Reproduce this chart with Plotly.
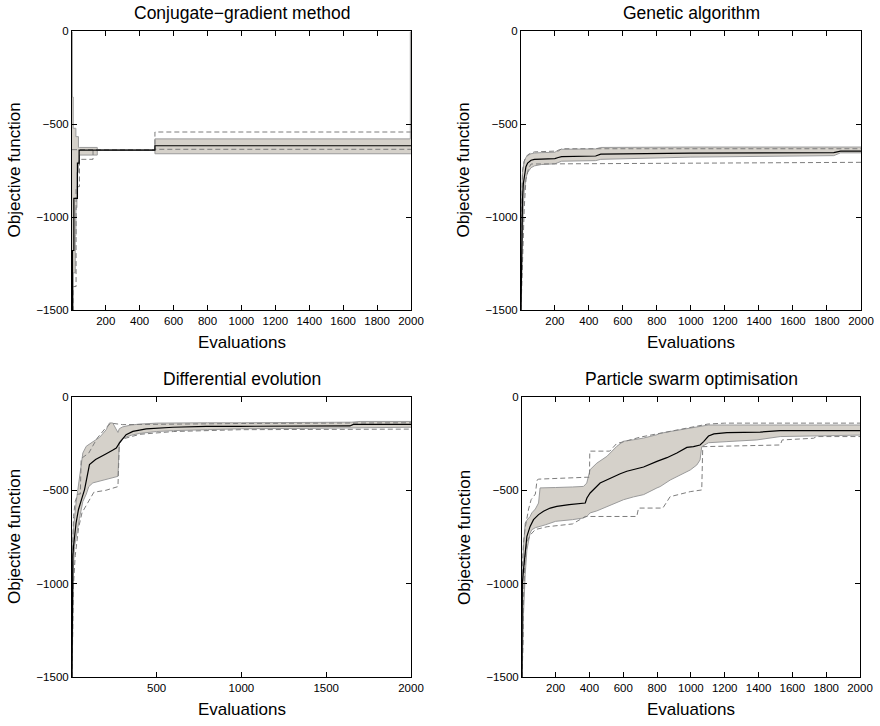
import plotly.graph_objects as go

W, H = 880, 726

# ---------------- Conjugate-gradient method ----------------
cg_band_x = [1, 3, 8, 20, 24, 30, 39, 45, 150, 490, 1996, 2000]
cg_band_hi = [-5, -355, -523, -523, -568, -568, -626, -626, -640, -580, -5, -5]
cg_band_lo = [-1500, -1500, -1300, -1100, -950, -760, -700, -667, -640, -660, -660, -660]
cg_mean_x = [1, 4, 12, 33, 43, 490, 2000]
cg_mean_y = [-1500, -1180, -900, -710, -640, -617, -617]
cg_dhi_x = [1, 490, 2000]
cg_dhi_y = [-638, -543, -543]
cg_dlo_x = [1, 8, 25, 45, 125, 490, 2000]
cg_dlo_y = [-1500, -1374, -837, -690, -640, -636, -636]

# ---------------- Genetic algorithm ----------------
ga_band_x = [1, 3, 6, 10, 15, 20, 30, 40, 60, 80, 120, 200, 220, 240, 440, 470, 1000, 1840, 1880, 2000]
ga_band_hi = [-1300, -1000, -850, -760, -720, -700, -680, -670, -660, -656, -654, -652, -640, -636,
              -634, -626, -624, -624, -624, -624]
ga_band_lo = [-1500, -1450, -1250, -1050, -930, -860, -790, -760, -735, -725, -718, -714, -705, -700,
              -697, -690, -678, -670, -655, -655]
ga_mean_x = ga_band_x
ga_mean_y = [-1500, -1250, -1050, -900, -820, -780, -730, -710, -695, -690, -688, -686, -680, -675,
             -672, -662, -657, -654, -646, -646]
ga_dhi_x = [1, 5, 10, 20, 30, 50, 80, 220, 240, 2000]
ga_dhi_y = [-1100, -850, -750, -700, -675, -660, -650, -645, -633, -633]
ga_dlo_x = [1, 10, 20, 30, 45, 60, 2000]
ga_dlo_y = [-1500, -1200, -950, -800, -740, -715, -706]

# ---------------- Differential evolution ----------------
de_band_x = [1, 3, 6, 10, 16, 25, 35, 45, 55, 65, 85, 100, 124, 165, 203, 222, 241, 260, 272, 280,
             300, 350, 400, 500, 600, 800, 1000, 1400, 1650, 1700, 2000]
de_band_hi = [-1100, -850, -760, -700, -640, -568, -500, -425, -371, -300, -264, -255, -237, -215,
              -175, -139, -139, -175, -190, -170, -160, -150, -145, -140, -138, -138, -138, -138,
              -135, -131, -131]
de_band_lo = [-1500, -1300, -1050, -900, -800, -740, -700, -650, -600, -560, -520, -480, -460, -450,
              -440, -435, -432, -428, -425, -240, -220, -205, -195, -185, -180, -175, -170, -168,
              -165, -162, -162]
de_mean_x = [1, 2, 4, 6, 10, 16, 25, 39, 49, 60, 75, 89, 104, 140, 163, 203, 240, 262, 281, 301,
             320, 360, 439, 596, 793, 989, 1200, 1640, 1660, 2000]
de_mean_y = [-1500, -1100, -950, -854, -800, -746, -675, -604, -568, -540, -496, -425, -362, -335,
             -325, -304, -285, -273, -246, -220, -202, -184, -171, -162, -157, -157, -156, -155,
             -147, -147]
de_dhi_x = [1, 5, 10, 20, 35, 50, 55, 100, 150, 200, 230, 300, 600, 1000, 2000]
de_dhi_y = [-950, -760, -640, -560, -520, -520, -330, -300, -220, -165, -140, -148, -145, -142, -138]
de_dlo_x = [1, 10, 20, 30, 40, 60, 100, 130, 200, 272, 280, 300, 400, 600, 1000, 2000]
de_dlo_y = [-1500, -1000, -850, -780, -700, -620, -560, -510, -500, -480, -250, -225, -200, -185,
            -175, -172]

# ---------------- Particle swarm optimisation ----------------
ps_band_x = [1, 5, 10, 20, 30, 49, 59, 80, 99, 108, 138, 200, 300, 365, 384, 404, 444, 503, 562,
             602, 661, 720, 799, 818, 877, 937, 996, 1035, 1054, 1064, 1094, 1104, 1213, 1390,
             1528, 1705, 2000]
ps_band_hi = [-1100, -900, -800, -675, -660, -640, -621, -600, -568, -487, -487, -485, -482, -479,
              -461, -389, -354, -318, -264, -237, -229, -220, -202, -195, -185, -175, -166, -159,
              -155, -155, -150, -150, -150, -150, -150, -150, -150]
ps_band_lo = [-1500, -1300, -1157, -950, -820, -729, -711, -700, -693, -693, -685, -666, -657, -648,
              -640, -621, -610, -586, -565, -550, -535, -523, -487, -480, -445, -418, -391, -364,
              -337, -266, -248, -245, -239, -230, -212, -209, -204]
ps_mean_x = [1, 3, 10, 20, 30, 49, 69, 99, 128, 168, 207, 280, 375, 385, 404, 463, 503, 542, 582,
             621, 661, 720, 799, 858, 917, 976, 1015, 1054, 1075, 1104, 1136, 1213, 1410, 1528, 2000]
ps_mean_y = [-1500, -1000, -925, -836, -746, -693, -657, -630, -612, -595, -586, -577, -568, -541,
             -514, -461, -443, -425, -411, -398, -389, -375, -345, -325, -300, -270, -266, -257,
             -239, -209, -198, -191, -188, -180, -180]
ps_dhi_x = [1, 5, 10, 20, 40, 55, 80, 90, 100, 380, 400, 402, 520, 560, 700, 900, 1100, 1200, 2000]
ps_dhi_y = [-950, -850, -780, -700, -600, -550, -520, -445, -440, -430, -430, -290, -290, -250,
            -215, -180, -145, -140, -140]
ps_dlo_x = [1, 8, 10, 15, 20, 30, 49, 80, 150, 300, 375, 680, 690, 834, 877, 996, 1064, 1070, 1528,
            1540, 1725, 1744, 2000]
ps_dlo_y = [-1500, -1300, -1068, -907, -850, -780, -740, -710, -695, -680, -640, -640, -595, -595,
            -534, -507, -498, -266, -257, -230, -221, -212, -212]

ticks_200 = [200, 400, 600, 800, 1000, 1200, 1400, 1600, 1800, 2000]
ticks_500 = [500, 1000, 1500, 2000]
y_ticks = [-1500, -1000, -500, 0]

BAND_FILL = "#d5d1ca"
BAND_EDGE = "#9b9b9b"
DASH_COL = "#7d7d7d"
FONT = "Liberation Sans, Arial, Helvetica, sans-serif"

panels = [
    dict(title="Conjugate−gradient method", box=(72, 411, 31, 310), xt=ticks_200, shape="hv",
         bx=cg_band_x, bhi=cg_band_hi, blo=cg_band_lo, mx=cg_mean_x, my=cg_mean_y,
         hx=cg_dhi_x, hy=cg_dhi_y, lx=cg_dlo_x, ly=cg_dlo_y),
    dict(title="Genetic algorithm", box=(521, 861, 31, 310), xt=ticks_200, shape="linear",
         bx=ga_band_x, bhi=ga_band_hi, blo=ga_band_lo, mx=ga_mean_x, my=ga_mean_y,
         hx=ga_dhi_x, hy=ga_dhi_y, lx=ga_dlo_x, ly=ga_dlo_y),
    dict(title="Differential evolution", box=(72, 411, 397, 677), xt=ticks_500, shape="linear",
         bx=de_band_x, bhi=de_band_hi, blo=de_band_lo, mx=de_mean_x, my=de_mean_y,
         hx=de_dhi_x, hy=de_dhi_y, lx=de_dlo_x, ly=de_dlo_y),
    dict(title="Particle swarm optimisation", box=(522, 860, 397, 677), xt=ticks_200, shape="linear",
         bx=ps_band_x, bhi=ps_band_hi, blo=ps_band_lo, mx=ps_mean_x, my=ps_mean_y,
         hx=ps_dhi_x, hy=ps_dhi_y, lx=ps_dlo_x, ly=ps_dlo_y),
]

fig = go.Figure()
layout = dict(
    template="none",
    width=W, height=H, margin=dict(l=0, r=0, t=0, b=0, pad=0),
    paper_bgcolor="white", plot_bgcolor="white", showlegend=False,
    font=dict(family=FONT, color="black"),
)
annotations = []

for i, p in enumerate(panels, start=1):
    sfx = "" if i == 1 else str(i)
    xa, ya = "x" + sfx, "y" + sfx
    x0, x1, y0, y1 = p["box"]
    shape = p["shape"]
    common = dict(xaxis=xa, yaxis=ya, mode="lines", hoverinfo="skip")
    fig.add_trace(go.Scatter(x=p["bx"], y=p["blo"], line=dict(color=BAND_EDGE, width=1, shape=shape),
                             **common))
    fig.add_trace(go.Scatter(x=p["bx"], y=p["bhi"], line=dict(color=BAND_EDGE, width=1, shape=shape),
                             fill="tonexty", fillcolor=BAND_FILL, **common))
    fig.add_trace(go.Scatter(x=p["hx"], y=p["hy"],
                             line=dict(color=DASH_COL, width=1, dash="5px,3px", shape=shape), **common))
    fig.add_trace(go.Scatter(x=p["lx"], y=p["ly"],
                             line=dict(color=DASH_COL, width=1, dash="5px,3px", shape=shape), **common))
    fig.add_trace(go.Scatter(x=p["mx"], y=p["my"], line=dict(color="black", width=1.2, shape=shape),
                             **common))

    axis_common = dict(showline=True, linecolor="black", linewidth=1, mirror="ticks",
                       ticks="inside", ticklen=5, tickcolor="black", tickwidth=1,
                       showgrid=False, zeroline=False, automargin=False,
                       tickfont=dict(size=11.5, family=FONT))
    layout["xaxis" + sfx] = dict(axis_common, domain=[x0 / W, x1 / W], anchor=ya,
                                 range=[1, 2000], tickvals=p["xt"])
    layout["yaxis" + sfx] = dict(axis_common, domain=[1 - y1 / H, 1 - y0 / H], anchor=xa,
                                 range=[-1500, 0], tickvals=y_ticks)

    cx = (x0 + x1) / 2
    annotations.append(dict(text=p["title"], x=cx / W, y=1 - (y0 - 18) / H, xref="paper",
                            yref="paper", xanchor="center", yanchor="middle", showarrow=False,
                            font=dict(size=17.5, family=FONT)))
    annotations.append(dict(text="Evaluations", x=cx / W, y=1 - (y1 + 32) / H, xref="paper",
                            yref="paper", xanchor="center", yanchor="middle", showarrow=False,
                            font=dict(size=17, family=FONT)))
    annotations.append(dict(text="Objective function", x=(x0 - 58) / W, y=1 - ((y0 + y1) / 2) / H,
                            xref="paper", yref="paper", xanchor="center", yanchor="middle",
                            showarrow=False, textangle=-90, font=dict(size=17, family=FONT)))

layout["annotations"] = annotations
fig.update_layout(**layout)
fig.write_html("out.html")
